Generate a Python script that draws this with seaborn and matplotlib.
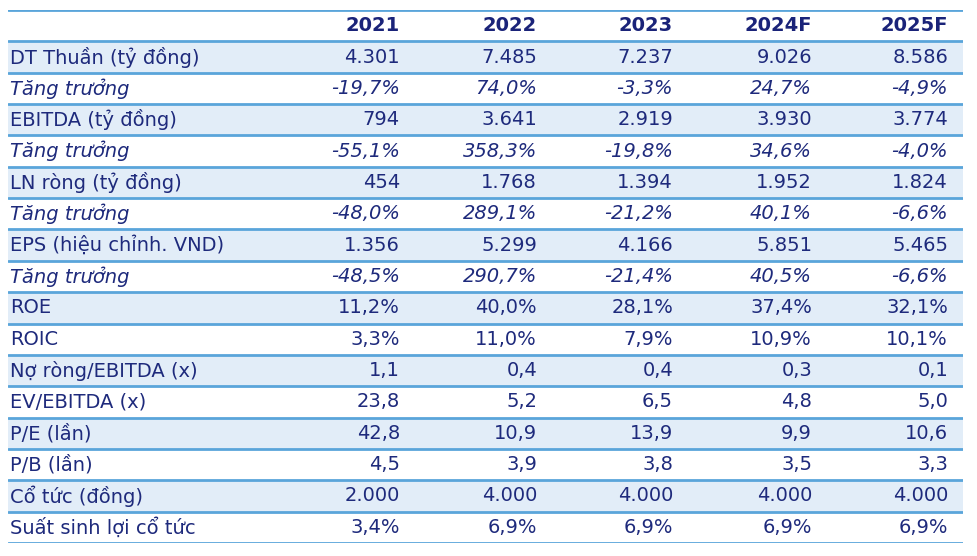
import numpy as np
import pandas as pd
import matplotlib
matplotlib.use("Agg")
import matplotlib.pyplot as plt
from matplotlib.colors import ListedColormap
import seaborn as sns

years = ["2021", "2022", "2023", "2024F", "2025F"]
labels = ["DT Thuần (tỷ đồng)", "Tăng trưởng", "EBITDA (tỷ đồng)", "Tăng trưởng",
          "LN ròng (tỷ đồng)", "Tăng trưởng", "EPS (hiệu chỉnh. VND)", "Tăng trưởng",
          "ROE", "ROIC", "Nợ ròng/EBITDA (x)", "EV/EBITDA (x)", "P/E (lần)",
          "P/B (lần)", "Cổ tức (đồng)", "Suất sinh lợi cổ tức"]
v2021 = ["4.301", "-19,7%", "794", "-55,1%", "454", "-48,0%", "1.356", "-48,5%",
         "11,2%", "3,3%", "1,1", "23,8", "42,8", "4,5", "2.000", "3,4%"]
v2022 = ["7.485", "74,0%", "3.641", "358,3%", "1.768", "289,1%", "5.299", "290,7%",
         "40,0%", "11,0%", "0,4", "5,2", "10,9", "3,9", "4.000", "6,9%"]
v2023 = ["7.237", "-3,3%", "2.919", "-19,8%", "1.394", "-21,2%", "4.166", "-21,4%",
         "28,1%", "7,9%", "0,4", "6,5", "13,9", "3,8", "4.000", "6,9%"]
v2024 = ["9.026", "24,7%", "3.930", "34,6%", "1.952", "40,1%", "5.851", "40,5%",
         "37,4%", "10,9%", "0,3", "4,8", "9,9", "3,5", "4.000", "6,9%"]
v2025 = ["8.586", "-4,9%", "3.774", "-4,0%", "1.824", "-6,6%", "5.465", "-6,6%",
         "32,1%", "10,1%", "0,1", "5,0", "10,6", "3,3", "4.000", "6,9%"]

cols = [v2021, v2022, v2023, v2024, v2025]
nrows = len(labels)

sns.set_theme(style="white")
plt.rcParams['font.family'] = ['DejaVu Sans']

W, H = 977, 556
fig = plt.figure(figsize=(W / 100, H / 100), dpi=100)
left_px, right_px, top_px, bot_px = 8, 963, 10, 543
ax = fig.add_axes([left_px / W, 1 - bot_px / H, (right_px - left_px) / W, (bot_px - top_px) / H])

# shading matrix: header row + alternating rows
shade = np.array([[0]] + [[1 if i % 2 == 0 else 0] for i in range(nrows)])
sns.heatmap(shade, ax=ax, cmap=ListedColormap(["#ffffff", "#e2edf8"]), cbar=False,
            xticklabels=False, yticklabels=False, vmin=0, vmax=1)
ax.set_xlim(0, 1)
ax.set_ylim(nrows + 1, 0)
for s in ax.spines.values():
    s.set_visible(False)

line_c = "#5aa5da"
for y in range(nrows + 2):
    ax.axhline(y, color=line_c, lw=2.0, zorder=3)

text_c = "#1e2a7c"
fs = 14

def fx(px):
    return (px - left_px) / (right_px - left_px)

right_edges = [400, 537, 673, 812, 948]

for j, yr in enumerate(years):
    ax.text(fx(right_edges[j]), 0.5, yr, ha="right", va="center", fontsize=fs,
            fontweight="bold", color="#1a2379")

for i, lab in enumerate(labels):
    style = "italic" if lab == "Tăng trưởng" else "normal"
    y = i + 1.5
    ax.text(fx(10), y, lab, ha="left", va="center", fontsize=fs, color=text_c, style=style)
    for j, col in enumerate(cols):
        ax.text(fx(right_edges[j]), y, col[i], ha="right", va="center", fontsize=fs,
                color=text_c, style=style)

fig.savefig("out.png", dpi=100)
